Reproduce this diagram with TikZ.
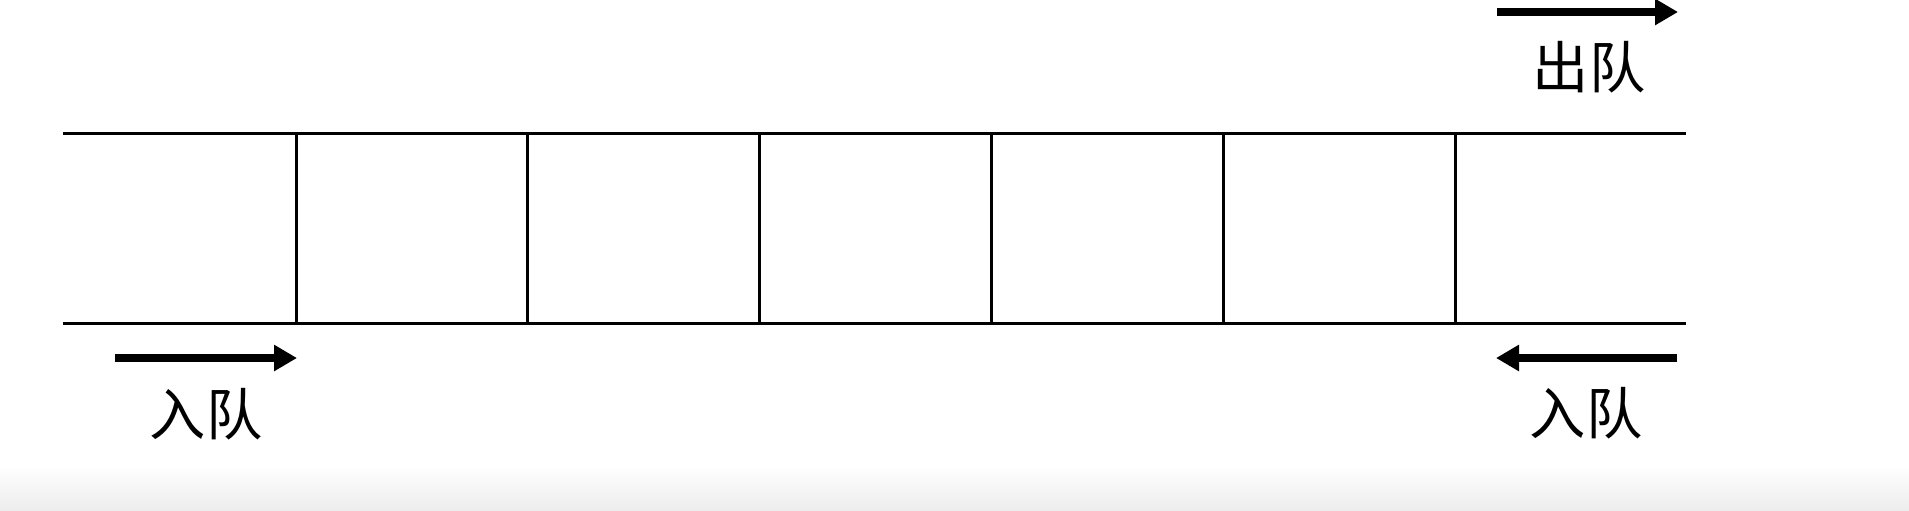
\documentclass[tikz,border=0pt]{standalone}
\usepackage{fontspec}
\newfontfamily\cjk{Noto Sans CJK SC}
\usetikzlibrary{arrows.meta}

\begin{document}
\begin{tikzpicture}[
    wall/.style={line width=0.85pt},
    flow/.style={line width=2pt,-{Triangle[length=2.3mm,width=2.5mm]}},
    tag/.style={font=\cjk\fontsize{16}{18}\selectfont,inner sep=0pt}
  ]
  \useasboundingbox (0,0) rectangle (19.09,5.10);
  \shade[top color=white,bottom color=black!7,draw=none] (0,0) rectangle (19.09,0.45);
  % queue body
  \coordinate (tl) at (0.63,3.77);
  \coordinate (tr) at (16.86,3.77);
  \coordinate (bl) at (0.63,1.87);
  \coordinate (br) at (16.86,1.87);
  \draw[wall] (tl) -- (tr);
  \draw[wall] (bl) -- (br);
  \foreach \i in {0,...,5} {
    \coordinate (s\i) at ({2.96+2.318*\i},3.77);
    \coordinate (e\i) at ({2.96+2.318*\i},1.87);
    \draw[wall] (s\i) -- (e\i);
  }
  % arrows
  \coordinate (outa) at (14.97,4.98);
  \coordinate (outb) at (16.78,4.98);
  \coordinate (ina) at (1.15,1.52);
  \coordinate (inb) at (2.97,1.52);
  \coordinate (inc) at (16.77,1.52);
  \coordinate (ind) at (14.96,1.52);
  \draw[flow] (outa) -- (outb);
  \draw[flow] (ina) -- (inb);
  \draw[flow] (inc) -- (ind);
  \node[tag] (out) at (15.89,4.43) {出队};
  \node[tag] (inleft) at (2.06,0.96) {入队};
  \node[tag] (inright) at (15.86,0.97) {入队};
\end{tikzpicture}
\end{document}
